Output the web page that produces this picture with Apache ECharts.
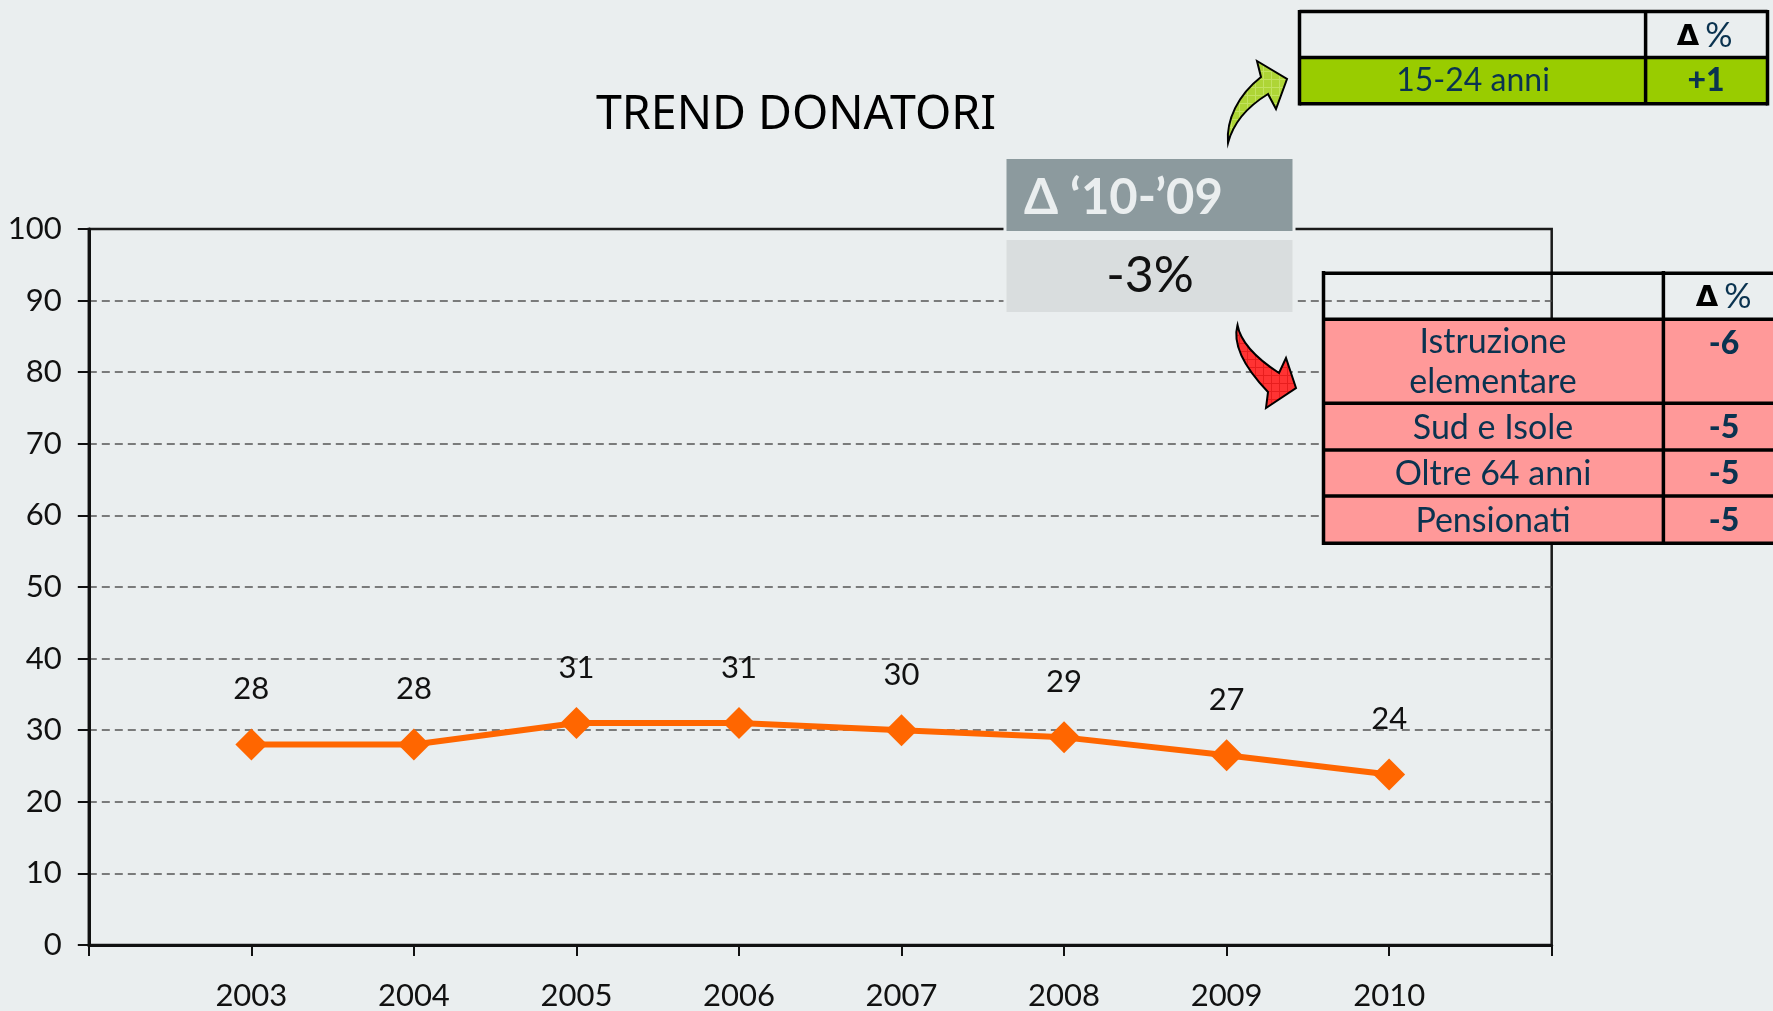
<!DOCTYPE html>
<html><head><meta charset="utf-8">
<style>html,body{margin:0;padding:0;background:#EAEEEF;overflow:hidden}#c{width:1773px;height:1011px}</style>
<script src="https://cdn.jsdelivr.net/npm/echarts@6/dist/echarts.min.js"></script>
</head><body><div id="c"></div>
<script>
const years = ['', '2003', '2004', '2005', '2006', '2007', '2008', '2009', '2010', ''];
const donors = [null, 28, 28, 31, 31, 30, 29, 26.5, 23.8, null];
const chartTitle = 'TREND DONATORI';
const deltaHead = 'Δ ‘10-’09';
const deltaValue = '-3%';
const upRows = [['15-24 anni', '+1']];
const downRows = [['Istruzione\nelementare', '-6'], ['Sud e Isole', '-5'], ['Oltre 64 anni', '-5'], ['Pensionati', '-5']];

const FONT = 'Lato';
const NAVY = '#0A3350';
function patt(base, line) {
  const c = document.createElement('canvas'); c.width = c.height = 8;
  const g = c.getContext('2d'); g.fillStyle = base; g.fillRect(0, 0, 8, 8);
  g.fillStyle = line; g.fillRect(0, 7, 8, 1); g.fillRect(7, 0, 1, 8);
  return {image: c, repeat: 'repeat'};
}
echarts.graphic.registerShape('arrowUp', echarts.graphic.extendPath('M1228 143 C1226 120 1238 95 1261 77 L1257 61 L1287 79 L1276 109 L1268 94 C1250 105 1234 120 1228 143 Z'));
echarts.graphic.registerShape('arrowDown', echarts.graphic.extendPath('M1237.5 325 C1232 345 1245 368 1268 392 L1266 408 L1296 388 L1286 358 L1279 373 C1262 362 1241 345 1237.5 325 Z'));

const rect = (x, y, w, h, fill, z) => ({type: 'rect', z: z || 100, shape: {x, y, width: w, height: h}, style: {fill}});
const line = (x1, y1, x2, y2, w) => ({type: 'line', z: 102, shape: {x1, y1, x2, y2}, style: {stroke: '#000', lineWidth: w || 3.5}});
const text = (x, y, t, size, fill, weight, family, align) => ({type: 'text', z: 103, x, y, style: {text: t, fontSize: size, fill, fontWeight: weight || 400, fontFamily: family || FONT, align: align || 'center', verticalAlign: 'middle', lineHeight: size * 1.18}});
const deltaPct = (cx, y) => [
  text(cx - 17, y + 1, 'Δ', 29, '#000', 700, 'DejaVu Sans'),
  text(cx + 14, y, '%', 34, NAVY, 400)
];

const g = [];
// delta box
g.push({type: 'rect', z: 100, shape: {x: 1006.5, y: 159, width: 286, height: 72}, style: {fill: '#8C9A9E', stroke: '#EAEEEF', lineWidth: 6}});
g.push({type: 'rect', z: 100, shape: {x: 1006.5, y: 240, width: 286, height: 72}, style: {fill: '#D9DDDE', stroke: '#EAEEEF', lineWidth: 6}});
g.push(rect(1006.5, 159, 286, 72, '#8C9A9E', 101), rect(1006.5, 240, 286, 72, '#D9DDDE', 101));
g.push(text(1024, 198, deltaHead, 49, '#EAEEEF', 700, FONT, 'left'));
g.push(text(1150, 276, deltaValue, 50, '#111', 400));

// upper table
g.push(rect(1299.5, 57, 468, 47, '#99CC00'));
g.push(line(1299.5, 11.5, 1767.5, 11.5), line(1299.5, 57.5, 1767.5, 57.5), line(1299.5, 103.7, 1767.5, 103.7),
       line(1299.5, 10, 1299.5, 105.5), line(1767.5, 10, 1767.5, 105.5), line(1645.6, 11, 1645.6, 104));
g.push(...deltaPct(1705, 36));
g.push(text(1473, 81, upRows[0][0], 32, NAVY, 400), text(1706, 81, upRows[0][1], 32, NAVY, 900));

// lower table
const ys = [319.3, 403.3, 450, 496, 543.3];
g.push(rect(1323.5, 319.3, 449.5, 224, '#FF9999'));
g.push(line(1323.5, 273.3, 1773, 273.3), line(1323.5, 271, 1323.5, 545), line(1663.4, 271, 1663.4, 545));
ys.forEach(y => g.push(line(1323.5, y, 1773, y)));
g.push(...deltaPct(1724, 297));
downRows.forEach((r, i) => {
  const cy = (ys[i] + ys[i + 1]) / 2;
  g.push(text(1493, cy + 1, r[0], 34, NAVY, 400));
  g.push(text(1724, i === 0 ? 344 : cy + 1, r[1], 32, NAVY, 900));
});

// arrows
g.push({type: 'arrowUp', z: 104, style: {fill: patt('#AED536', '#C2E25E'), stroke: '#000', lineWidth: 2}});
g.push({type: 'arrowDown', z: 104, style: {fill: patt('#FF3333', '#E81E1E'), stroke: '#000', lineWidth: 2}});

const chart = echarts.init(document.getElementById('c'));
chart.setOption({
  animation: false,
  backgroundColor: '#EAEEEF',
  title: {text: chartTitle, left: 791, top: 111, textAlign: 'center', textVerticalAlign: 'middle',
    textStyle: {fontFamily: 'Noto Sans', fontSize: 46.5, fontWeight: 400, color: '#000'}},
  grid: {left: 88.8, right: 221.3, top: 229, bottom: 66, show: true, borderColor: '#1a1a1a', borderWidth: 2.5, backgroundColor: 'transparent'},
  xAxis: {type: 'category', data: years, boundaryGap: false,
    axisLine: {onZero: false, lineStyle: {color: '#111', width: 3}},
    axisTick: {show: true, interval: 0, length: 11, lineStyle: {color: '#111', width: 2}},
    axisLabel: {interval: 0, margin: 35, fontFamily: FONT, fontSize: 31, fontWeight: 400, color: '#111', showMinLabel: true, showMaxLabel: true},
    splitLine: {show: false}},
  yAxis: {type: 'value', min: 0, max: 100, interval: 10,
    axisLine: {show: true, lineStyle: {color: '#111', width: 3}},
    axisTick: {show: true, length: 11, lineStyle: {color: '#111', width: 2}},
    axisLabel: {margin: 27, fontFamily: FONT, fontSize: 31, fontWeight: 400, color: '#111'},
    splitLine: {show: true, showMaxLine: false, lineStyle: {color: '#555', width: 1.5, type: [8, 5]}}},
  series: [{type: 'line', data: donors, symbol: 'diamond', symbolSize: 32, connectNulls: false,
    lineStyle: {color: '#FF6600', width: 6}, itemStyle: {color: '#FF6600'},
    label: {show: true, position: 'top', distance: 24, fontFamily: FONT, fontSize: 31, fontWeight: 400, color: '#111',
      formatter: p => Math.round(p.value)}}],
  graphic: {elements: g}
});
</script></body></html>
